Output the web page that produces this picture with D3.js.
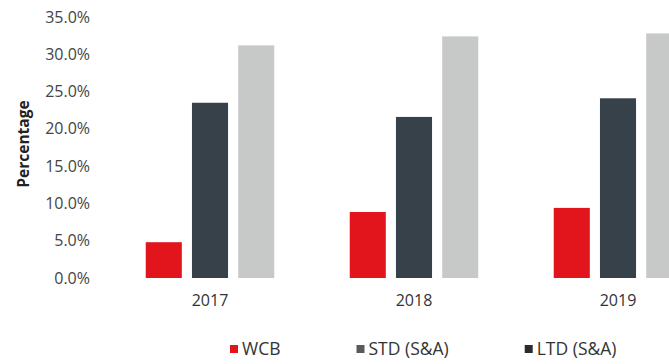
<!DOCTYPE html>
<html><head><meta charset="utf-8">
<script src="https://cdn.jsdelivr.net/npm/d3@7"></script>
<style>body{margin:0;background:#fff}svg{display:block}text{font-family:"Open Sans",sans-serif}</style>
</head><body>
<svg id="c" width="669" height="364"></svg>
<script>
const years = ["2017","2018","2019"];
const seriesNames = ["WCB","STD (S&A)","LTD (S&A)"];
const wcb = [4.8, 8.85, 9.4];
const std = [23.5, 21.6, 24.1];
const ltd = [31.2, 32.4, 32.8];
const yTicks = [0,5,10,15,20,25,30,35];

const barColors = ["#e2141c","#36414a","#c7c8c8"];
const legendColors = ["#e2141c","#5a5a5a","#2b2b2b"];
const values = [wcb, std, ltd];

const svg = d3.select("#c");
const y = d3.scaleLinear().domain([0,35]).range([278,17]);
const x0 = d3.scaleBand().domain(years).range([108,720]).paddingInner(0.37).paddingOuter(0.185);
const x1 = d3.scaleBand().domain(seriesNames).range([0,x0.bandwidth()]).paddingInner(0.22);

// y axis
const yAxis = svg.append("g").attr("transform","translate(90,0)")
  .call(d3.axisLeft(y).tickValues(yTicks).tickSize(0).tickPadding(0).tickFormat(d=>d.toFixed(1)+"%"));
yAxis.select(".domain").remove();
yAxis.selectAll("text").attr("font-size",16).attr("fill","#444").style("font-family","'Open Sans'");

// x axis
const xAxis = svg.append("g").attr("transform","translate(0,278)")
  .call(d3.axisBottom(x0).tickSize(0).tickPadding(17));
xAxis.select(".domain").remove();
xAxis.selectAll("text").attr("font-size",16).attr("fill","#333").style("font-family","'Open Sans'");

// bars
const groups = svg.append("g").selectAll("g").data(years).join("g")
  .attr("transform",d=>`translate(${x0(d)},0)`);
groups.selectAll("rect").data((d,i)=>seriesNames.map((s,j)=>({s,j,v:values[j][i]}))).join("rect")
  .attr("x",d=>x1(d.s)).attr("width",x1.bandwidth())
  .attr("y",d=>y(d.v)).attr("height",d=>y(0)-y(d.v))
  .attr("fill",d=>barColors[d.j]);

// y title
svg.append("text").attr("transform","translate(29,144) rotate(-90)")
  .attr("text-anchor","middle").attr("font-size",15.5).attr("font-weight","bold").attr("fill","#222")
  .text("Percentage");

// legend
const leg = svg.append("g").selectAll("g").data(seriesNames).join("g");
leg.append("rect").attr("width",8).attr("height",8).attr("fill",(d,i)=>legendColors[i]);
leg.append("text").attr("x",12).attr("y",10).attr("font-size",17.5).attr("fill","#333").text(d=>d);
let lx = 230;
leg.each(function(){
  d3.select(this).attr("transform",`translate(${lx},345)`);
  const w = d3.select(this).select("text").node().getComputedTextLength();
  lx += 12 + w + 76;
});
</script>
</body></html>
